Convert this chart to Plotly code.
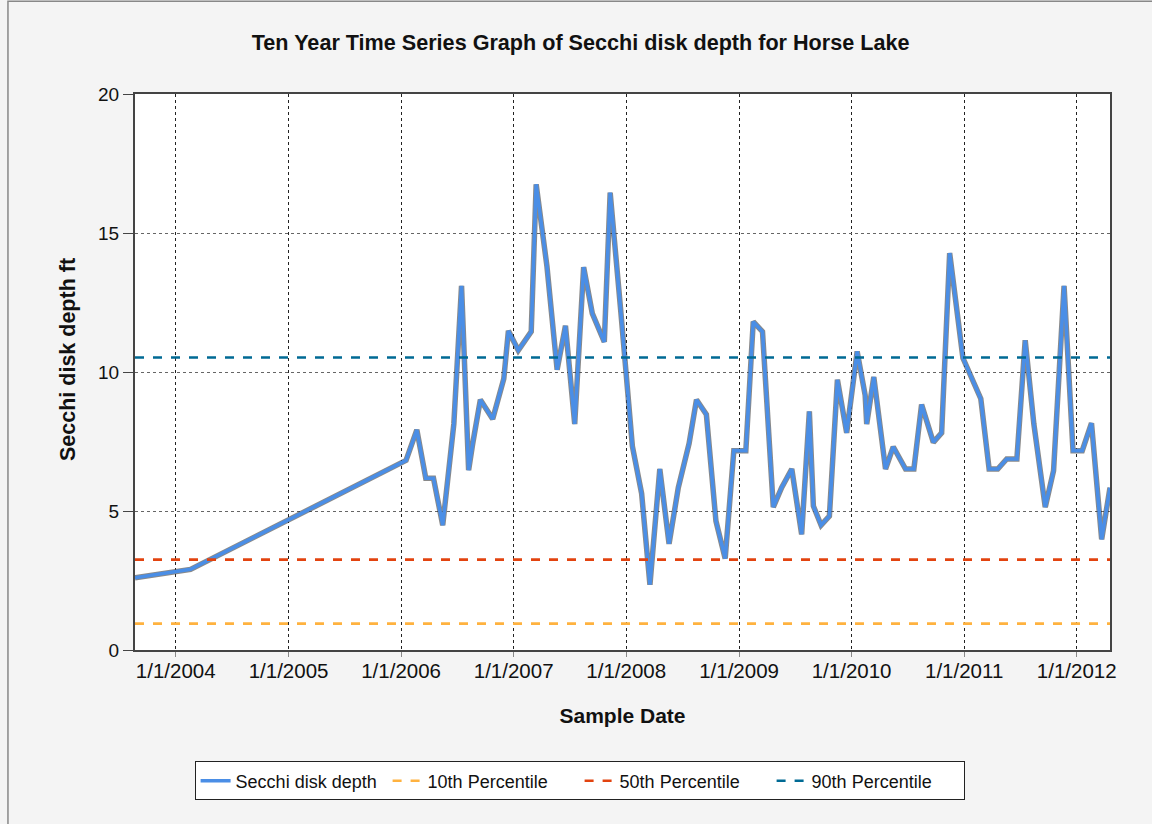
import plotly.graph_objects as go

# ---- data ----
sample_dates = [
    "2003-08-22", "2004-02-18", "2006-01-17", "2006-02-21", "2006-03-22", "2006-04-16",
    "2006-05-16", "2006-06-21", "2006-07-16", "2006-08-08", "2006-08-21", "2006-09-15",
    "2006-10-25", "2006-11-30", "2006-12-15", "2007-01-16", "2007-02-27", "2007-03-15",
    "2007-04-19", "2007-05-22", "2007-06-18", "2007-07-18", "2007-08-16", "2007-09-13",
    "2007-10-22", "2007-11-10", "2007-12-15", "2008-01-21", "2008-02-20", "2008-03-18",
    "2008-04-19", "2008-05-19", "2008-06-18", "2008-07-23", "2008-08-16", "2008-09-17",
    "2008-10-18", "2008-11-17", "2008-12-15", "2009-01-23", "2009-02-16", "2009-03-18",
    "2009-04-22", "2009-05-19", "2009-06-21", "2009-07-23", "2009-08-17", "2009-08-30",
    "2009-09-24", "2009-10-21", "2009-11-16", "2009-12-16", "2010-01-19", "2010-02-14",
    "2010-02-19", "2010-03-14", "2010-04-21", "2010-05-16", "2010-06-25", "2010-07-22",
    "2010-08-16", "2010-09-23", "2010-10-20", "2010-11-15", "2010-12-28", "2011-02-24",
    "2011-03-23", "2011-04-20", "2011-05-19", "2011-06-21", "2011-07-18", "2011-08-15",
    "2011-09-21", "2011-10-18", "2011-11-21", "2011-12-20", "2012-01-19", "2012-02-18",
    "2012-03-22", "2012-04-18",
]
secchi_depth_ft = [
    2.6, 2.9, 6.82, 7.92, 6.18, 6.18,
    4.49, 8.13, 13.1, 6.47, 7.41, 9.0,
    8.31, 9.76, 11.48, 10.78, 11.45, 16.75,
    13.8, 10.08, 11.66, 8.13, 13.77, 12.11,
    11.08, 16.45, 12.11, 7.33, 5.63, 2.35,
    6.51, 3.82, 5.84, 7.43, 9.0, 8.47,
    4.64, 3.29, 7.17, 7.17, 11.81, 11.45,
    5.14, 5.84, 6.51, 4.16, 8.58, 5.18,
    4.49, 4.82, 9.72, 7.81, 10.74, 9.16,
    8.13, 9.82, 6.51, 7.31, 6.51, 6.51,
    8.83, 7.47, 7.81, 14.28, 10.5, 9.04,
    6.51, 6.51, 6.87, 6.87, 11.14, 8.13,
    5.14, 6.45, 13.1, 7.17, 7.17, 8.16,
    3.98, 5.84,
]
percentile_names = ["10th Percentile", "50th Percentile", "90th Percentile"]
percentile_values = [0.95, 3.25, 10.52]
percentile_colors = ["#FFB23F", "#E2430F", "#006A94"]

x_tick_dates = ["2004-01-01", "2005-01-01", "2006-01-01", "2007-01-01", "2008-01-01",
                "2009-01-01", "2010-01-01", "2011-01-01", "2012-01-01"]
x_tick_labels = ["1/1/2004", "1/1/2005", "1/1/2006", "1/1/2007", "1/1/2008",
                 "1/1/2009", "1/1/2010", "1/1/2011", "1/1/2012"]
y_ticks = [0, 5, 10, 15, 20]

FONT = "Liberation Sans, Arial, sans-serif"

fig = go.Figure()

# subtle dark shadow under the main line
fig.add_trace(go.Scatter(
    x=sample_dates, y=secchi_depth_ft, mode="lines",
    line=dict(color="rgba(40,40,40,0.55)", width=5.5),
    showlegend=False, hoverinfo="skip",
))
fig.add_trace(go.Scatter(
    x=sample_dates, y=secchi_depth_ft, mode="lines",
    name="Secchi disk depth",
    line=dict(color="#4A8EE6", width=3.6),
))

x_first, x_last = sample_dates[0], sample_dates[-1]
for name, val, col in zip(percentile_names, percentile_values, percentile_colors):
    fig.add_trace(go.Scatter(
        x=[x_first, x_last], y=[val, val], mode="lines", name=name,
        line=dict(color=col, width=2.6, dash="dash"),
    ))

fig.update_layout(
    width=1152, height=824,
    paper_bgcolor="#F4F4F4", plot_bgcolor="white",
    margin=dict(l=135, r=42, t=94, b=174),
    font=dict(family=FONT, size=16, color="#111"),
    title=dict(
        text="<b>Ten Year Time Series Graph of Secchi disk depth for Horse Lake</b>",
        x=0.504, xanchor="center", y=0.948, yanchor="middle",
        font=dict(family=FONT, size=21.6, color="#111"),
    ),
    legend=dict(
        orientation="h", x=0.456, xanchor="center", y=-0.2356, yanchor="middle",
        bgcolor="white", bordercolor="#222", borderwidth=1,
        font=dict(family=FONT, size=18, color="#111"),
        itemwidth=30, entrywidth=147, entrywidthmode="pixels",
    ),
    showlegend=True,
    annotations=[dict(
        text="<b>Secchi disk depth ft</b>", xref="paper", yref="paper",
        x=-0.0687, y=0.5216, xanchor="center", yanchor="middle", textangle=-90,
        showarrow=False, font=dict(family=FONT, size=21.5, color="#111"),
    )],
)

fig.update_xaxes(
    type="date", range=[x_first, x_last],
    tickvals=x_tick_dates, ticktext=x_tick_labels,
    showgrid=True, gridcolor="#222", griddash="dot", gridwidth=1,
    ticks="outside", ticklen=5, tickcolor="#888", ticklabelstandoff=-4,
    showline=True, linecolor="#444", linewidth=2, mirror=True,
    tickfont=dict(family=FONT, size=20.5, color="#111"),
    title=dict(text="<b>Sample Date</b>", font=dict(family=FONT, size=21, color="#111"), standoff=28),
    zeroline=False,
)
fig.update_yaxes(
    range=[0, 20], tickvals=y_ticks,
    showgrid=True, gridcolor="#666", griddash="dot", gridwidth=1,
    ticks="outside", ticklen=10, tickcolor="#444",
    showline=True, linecolor="#444", linewidth=2, mirror=True,
    tickfont=dict(family=FONT, size=19, color="#111"),
    zeroline=False,
)

# outer frame of the picture
fig.add_shape(type="rect", xref="paper", yref="paper",
              x0=-0.1303, x1=1.045, y0=-0.33, y1=1.167,
              line=dict(color="#888", width=1.5), fillcolor="rgba(0,0,0,0)", layer="below")

fig.write_html(
    "out.html",
    config={"displayModeBar": False},
    post_script="document.body.style.margin='0';document.body.style.overflow='hidden';"
                "document.body.style.background='#F4F4F4';",
)
